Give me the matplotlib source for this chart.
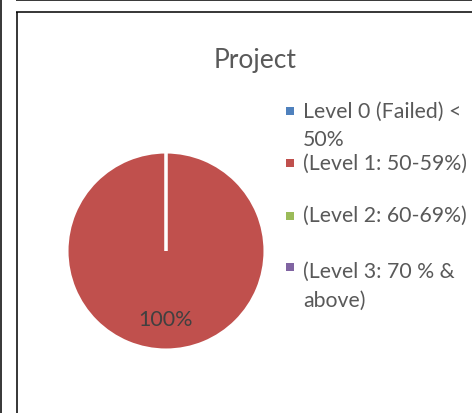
import matplotlib
matplotlib.use('Agg')
import matplotlib.pyplot as plt
from matplotlib.patches import Rectangle
from matplotlib.lines import Line2D

title = "Project"
categories = ["Level 0 (Failed) <\n50%", "(Level 1: 50-59%)", "(Level 2: 60-69%)", "(Level 3: 70 % &\nabove)"]
values = [0, 100, 0, 0]
colors = ["#4F81BD", "#C0504D", "#9BBB59", "#8064A2"]

plt.rcParams['font.family'] = ['Lato', 'DejaVu Sans']

W, H = 472, 414
fig = plt.figure(figsize=(W / 100, H / 100), dpi=100)


def fx(x):
    return x / W


def fy(y):
    return 1 - y / H


def hline(x0, x1, y):
    fig.add_artist(Line2D([fx(x0), fx(x1)], [fy(y), fy(y)], transform=fig.transFigure,
                          color='black', lw=1.1, solid_capstyle='butt'))


def vline(x, y0, y1):
    fig.add_artist(Line2D([fx(x), fx(x)], [fy(y0), fy(y1)], transform=fig.transFigure,
                          color='black', lw=1.1, solid_capstyle='butt'))


# frame lines
vline(0.8, 0, H)
hline(16, W, 1.2)
vline(16.5, 0, 1.2)
hline(16, W, 13)
vline(16.5, 13, H)

# pie
cx, cy, r = 166, 252, 99
ax = fig.add_axes([fx(cx - r), (H - cy - r) / H, 2 * r / W, 2 * r / H])
wedges, texts, autotexts = ax.pie(
    values, colors=colors, startangle=90, counterclock=False,
    autopct=lambda p: f"{p:.0f}%" if p > 0 else "", pctdistance=0.69,
    wedgeprops=dict(edgecolor='white', linewidth=2.2),
    textprops=dict(color='#404040', fontsize=15.5))
ax.set_xlim(-1, 1)
ax.set_ylim(-1, 1)
ax.axis('off')

# title
fig.text(fx(255), fy(68), title, ha='center', va='baseline', fontsize=19, color='#595959')

# legend
text_baselines = [118, 170, 222, 278]
marker_centers = [112, 164, 216.5, 268]
line_step = 28.5
for lab, col, yb, ym in zip(categories, colors, text_baselines, marker_centers):
    fig.add_artist(Rectangle((fx(286), fy(ym + 4)), 8 / W, 8 / H, transform=fig.transFigure,
                             facecolor=col, edgecolor='none'))
    for k, line in enumerate(lab.split('\n')):
        fig.text(fx(303), fy(yb + k * line_step), line, ha='left', va='baseline',
                 fontsize=15.3, color='#595959')

fig.savefig('out.png', dpi=100)
